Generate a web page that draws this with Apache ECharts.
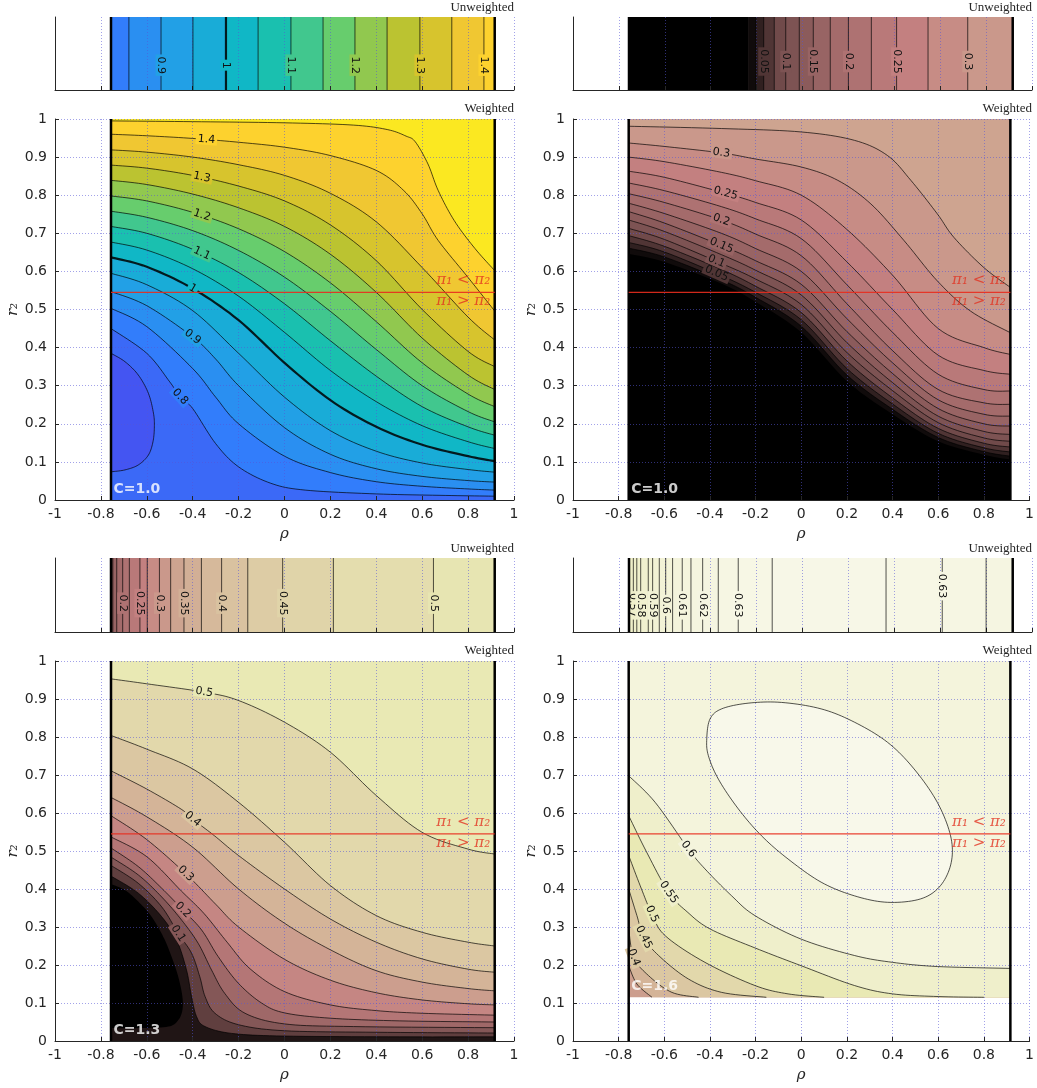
<!DOCTYPE html>
<html>
<head>
<meta charset="utf-8">
<title>Weighted / Unweighted contours</title>
<script src="https://cdn.jsdelivr.net/npm/echarts@6/dist/echarts.min.js"></script>
<style>
  html, body { margin: 0; padding: 0; background: #fff; }
  #chart { width: 1037px; height: 1088px; }
</style>
</head>
<body>
<div id="chart"></div>
<script>
// ---- values ----
const rhoBounds = [-0.756, 0.916]   // feasible rho range (thick black lines)
const r2Split = 0.545               // pi1 = pi2 boundary
const cLabels = ['C=1.0', 'C=1.0', 'C=1.3', 'C=1.6']
const r2Floor = [0, 0, 0, 0.115]    // lowest r2 that has data

// unweighted strips: rho of each contour line, its level, which lines carry a label
const u1Pos = [-0.678, -0.538, -0.399, -0.255, -0.115, 0.028, 0.168, 0.307, 0.447, 0.59, 0.729, 0.869]
const u1Lev = [0.85, 0.9, 0.95, 1, 1.05, 1.1, 1.15, 1.2, 1.25, 1.3, 1.35, 1.4]
const u1Lab = [1, 3, 5, 7, 9, 11]

const u2Pos = [-0.237, -0.203, -0.169, -0.123, -0.073, -0.014, 0.047, 0.121, 0.2, 0.3, 0.41, 0.547, 0.72]
const u2Lev = [0, 0.025, 0.05, 0.075, 0.1, 0.125, 0.15, 0.175, 0.2, 0.225, 0.25, 0.275, 0.3]
const u2Lab = [2, 4, 6, 8, 10, 12]

const u3Pos = [-0.748, -0.731, -0.705, -0.676, -0.63, -0.598, -0.545, -0.496, -0.438, -0.362, -0.274, -0.16, -0.008, 0.213, 0.649]
const u3Lev = [0.15, 0.175, 0.2, 0.225, 0.25, 0.275, 0.3, 0.325, 0.35, 0.375, 0.4, 0.425, 0.45, 0.475, 0.5]
const u3Lab = [2, 4, 6, 8, 10, 12, 14]

const u4Pos = [-0.737, -0.722, -0.705, -0.672, -0.653, -0.624, -0.596, -0.566, -0.524, -0.486, -0.435, -0.367, -0.28, -0.132, 0.364, 0.609, 0.8]
const u4Lev = [0.57, 0.575, 0.58, 0.585, 0.59, 0.595, 0.6, 0.605, 0.61, 0.615, 0.62, 0.625, 0.63, 0.635, 0.635, 0.63, 0.625]
const u4Lab = [0, 2, 4, 6, 8, 10, 12, 15]

// weighted panels: contour levels and the traced lines [rho, r2]
const w1Lev = [0.75, 0.8, 0.85, 0.9, 0.95, 1, 1.05, 1.1, 1.15, 1.2, 1.25, 1.3, 1.35, 1.4, 1.45]
const w1Lines = [
  [[-0.756, 0.385], [-0.695, 0.363], [-0.637, 0.328], [-0.593, 0.28], [-0.571, 0.228], [-0.567, 0.192], [-0.573, 0.153], [-0.593, 0.118], [-0.637, 0.092], [-0.695, 0.079], [-0.756, 0.074]],
  [[-0.756, 0.45], [-0.6, 0.385], [-0.5, 0.31], [-0.455, 0.271], [-0.4, 0.24], [-0.3, 0.148], [-0.2, 0.087], [-0.06, 0.044], [0.09, 0.026], [0.4, 0.016], [0.7, 0.012], [0.916, 0.01]],
  [[-0.756, 0.503], [-0.6, 0.455], [-0.4, 0.345], [-0.3, 0.27], [-0.2, 0.2], [0, 0.115], [0.2, 0.072], [0.4, 0.048], [0.6, 0.036], [0.8, 0.029], [0.916, 0.026]],
  [[-0.756, 0.547], [-0.6, 0.51], [-0.4, 0.428], [-0.3, 0.37], [-0.2, 0.3], [0, 0.19], [0.2, 0.12], [0.4, 0.082], [0.6, 0.062], [0.8, 0.051], [0.916, 0.047]],
  [[-0.756, 0.595], [-0.6, 0.565], [-0.4, 0.497], [-0.2, 0.385], [0, 0.27], [0.2, 0.182], [0.4, 0.128], [0.6, 0.097], [0.8, 0.08], [0.916, 0.073]],
  [[-0.756, 0.637], [-0.6, 0.612], [-0.4, 0.555], [-0.2, 0.472], [0, 0.36], [0.2, 0.262], [0.4, 0.192], [0.6, 0.145], [0.8, 0.115], [0.916, 0.102]],
  [[-0.756, 0.677], [-0.6, 0.656], [-0.4, 0.607], [-0.2, 0.535], [0, 0.44], [0.2, 0.34], [0.4, 0.258], [0.6, 0.195], [0.8, 0.153], [0.916, 0.135]],
  [[-0.756, 0.718], [-0.6, 0.7], [-0.4, 0.658], [-0.2, 0.597], [0, 0.515], [0.2, 0.418], [0.4, 0.325], [0.6, 0.245], [0.8, 0.192], [0.916, 0.17]],
  [[-0.756, 0.758], [-0.6, 0.742], [-0.4, 0.707], [-0.2, 0.655], [0, 0.585], [0.2, 0.495], [0.4, 0.395], [0.6, 0.3], [0.8, 0.232], [0.916, 0.205]],
  [[-0.756, 0.798], [-0.6, 0.785], [-0.4, 0.755], [-0.2, 0.712], [0, 0.652], [0.2, 0.57], [0.4, 0.468], [0.6, 0.36], [0.8, 0.278], [0.916, 0.245]],
  [[-0.756, 0.839], [-0.6, 0.828], [-0.4, 0.803], [-0.2, 0.767], [0, 0.718], [0.2, 0.645], [0.4, 0.545], [0.6, 0.425], [0.8, 0.328], [0.916, 0.29]],
  [[-0.756, 0.879], [-0.6, 0.871], [-0.4, 0.852], [-0.2, 0.824], [0, 0.785], [0.2, 0.722], [0.4, 0.628], [0.6, 0.5], [0.8, 0.39], [0.916, 0.35]],
  [[-0.756, 0.919], [-0.6, 0.913], [-0.4, 0.9], [-0.2, 0.88], [0, 0.852], [0.2, 0.805], [0.4, 0.73], [0.6, 0.61], [0.8, 0.48], [0.916, 0.42]],
  [[-0.756, 0.96], [-0.6, 0.956], [-0.4, 0.949], [-0.2, 0.939], [0, 0.926], [0.2, 0.904], [0.4, 0.865], [0.52, 0.812], [0.6, 0.751], [0.67, 0.681], [0.8, 0.584], [0.916, 0.496]],
  [[-0.756, 0.995], [-0.4, 0.993], [0, 0.99], [0.3, 0.984], [0.45, 0.972], [0.53, 0.955], [0.57, 0.94], [0.625, 0.882], [0.67, 0.812], [0.74, 0.733], [0.83, 0.66], [0.916, 0.602]]
]
const w1Lab = [[1.4, -0.334, 0.947], [1.3, -0.349, 0.852], [1.2, -0.349, 0.753], [1.1, -0.363, 0.654], [1, -0.407, 0.556], [0.9, -0.4, 0.428], [0.8, -0.458, 0.268]]

const w2Lev = [0, 0.025, 0.05, 0.075, 0.1, 0.125, 0.15, 0.175, 0.2, 0.225, 0.25, 0.275, 0.3, 0.325]
const w2Lines = [
  [[-0.756, 0.646], [-0.6, 0.625], [-0.35, 0.568], [-0.2, 0.52], [0, 0.44], [0.2, 0.312], [0.4, 0.225], [0.6, 0.154], [0.8, 0.119], [0.916, 0.106]],
  [[-0.756, 0.661], [-0.6, 0.638], [-0.35, 0.578], [-0.2, 0.532], [0, 0.456], [0.2, 0.328], [0.4, 0.238], [0.6, 0.164], [0.8, 0.127], [0.916, 0.115]],
  [[-0.756, 0.676], [-0.6, 0.651], [-0.35, 0.589], [-0.2, 0.545], [0, 0.473], [0.2, 0.345], [0.4, 0.252], [0.6, 0.175], [0.8, 0.137], [0.916, 0.126]],
  [[-0.756, 0.694], [-0.6, 0.666], [-0.35, 0.605], [-0.2, 0.561], [0, 0.492], [0.2, 0.365], [0.4, 0.268], [0.6, 0.188], [0.8, 0.149], [0.916, 0.139]],
  [[-0.756, 0.713], [-0.6, 0.684], [-0.35, 0.621], [-0.2, 0.58], [0, 0.513], [0.2, 0.387], [0.4, 0.287], [0.6, 0.203], [0.8, 0.163], [0.916, 0.154]],
  [[-0.756, 0.735], [-0.6, 0.705], [-0.35, 0.644], [-0.2, 0.603], [0, 0.538], [0.2, 0.413], [0.4, 0.308], [0.6, 0.22], [0.8, 0.18], [0.916, 0.172]],
  [[-0.756, 0.757], [-0.6, 0.727], [-0.35, 0.668], [-0.2, 0.628], [0, 0.566], [0.2, 0.442], [0.4, 0.332], [0.6, 0.24], [0.8, 0.2], [0.916, 0.194]],
  [[-0.756, 0.779], [-0.6, 0.752], [-0.35, 0.7], [-0.2, 0.66], [0, 0.6], [0.2, 0.476], [0.4, 0.36], [0.6, 0.263], [0.8, 0.225], [0.916, 0.22]],
  [[-0.756, 0.804], [-0.6, 0.781], [-0.35, 0.735], [-0.2, 0.698], [0, 0.641], [0.2, 0.515], [0.4, 0.392], [0.6, 0.29], [0.8, 0.255], [0.916, 0.251]],
  [[-0.756, 0.832], [-0.6, 0.812], [-0.35, 0.77], [-0.2, 0.738], [0, 0.686], [0.2, 0.565], [0.4, 0.44], [0.6, 0.33], [0.8, 0.29], [0.916, 0.286]],
  [[-0.756, 0.863], [-0.6, 0.847], [-0.35, 0.808], [-0.2, 0.781], [0, 0.735], [0.2, 0.625], [0.4, 0.5], [0.6, 0.38], [0.8, 0.34], [0.916, 0.33]],
  [[-0.756, 0.9], [-0.6, 0.888], [-0.35, 0.86], [-0.2, 0.838], [0, 0.8], [0.2, 0.71], [0.4, 0.59], [0.6, 0.45], [0.8, 0.4], [0.916, 0.382]],
  [[-0.756, 0.937], [-0.6, 0.928], [-0.35, 0.911], [-0.2, 0.895], [0, 0.874], [0.16, 0.839], [0.305, 0.777], [0.45, 0.681], [0.596, 0.575], [0.741, 0.496], [0.916, 0.439]],
  [[-0.756, 0.981], [-0.35, 0.975], [0, 0.966], [0.233, 0.944], [0.378, 0.904], [0.48, 0.839], [0.596, 0.751], [0.669, 0.689], [0.8, 0.61], [0.916, 0.558]]
]
const w2Lab = [[0.3, -0.349, 0.911], [0.25, -0.334, 0.808], [0.2, -0.356, 0.735], [0.15, -0.349, 0.668], [0.1, -0.371, 0.621], [0.05, -0.363, 0.589]]

const w3Lev = [0, 0.05, 0.1, 0.15, 0.2, 0.25, 0.3, 0.35, 0.4, 0.45, 0.5]
const w3Lines = [
  [[-0.756, 0.413], [-0.695, 0.397], [-0.637, 0.367], [-0.579, 0.327], [-0.528, 0.274], [-0.492, 0.222], [-0.463, 0.169], [-0.445, 0.117], [-0.445, 0.081], [-0.463, 0.055], [-0.506, 0.038], [-0.637, 0.034], [-0.756, 0.034]],
  [[-0.756, 0.434], [-0.637, 0.389], [-0.535, 0.327], [-0.47, 0.266], [-0.427, 0.187], [-0.405, 0.117], [-0.383, 0.064], [-0.346, 0.038], [-0.23, 0.02], [0, 0.013], [0.5, 0.011], [0.916, 0.011]],
  [[-0.756, 0.462], [-0.637, 0.415], [-0.535, 0.353], [-0.463, 0.283], [-0.405, 0.231], [-0.369, 0.169], [-0.346, 0.117], [-0.303, 0.073], [-0.201, 0.043], [0, 0.027], [0.4, 0.023], [0.916, 0.021]],
  [[-0.756, 0.484], [-0.637, 0.437], [-0.535, 0.379], [-0.448, 0.318], [-0.376, 0.257], [-0.318, 0.187], [-0.26, 0.125], [-0.172, 0.073], [0, 0.045], [0.3, 0.038], [0.916, 0.035]],
  [[-0.756, 0.508], [-0.637, 0.459], [-0.535, 0.402], [-0.443, 0.345], [-0.361, 0.292], [-0.289, 0.222], [-0.201, 0.152], [-0.1, 0.1], [0, 0.074], [0.2, 0.06], [0.5, 0.053], [0.916, 0.05]],
  [[-0.756, 0.537], [-0.6, 0.485], [-0.45, 0.395], [-0.35, 0.335], [-0.25, 0.26], [-0.15, 0.19], [0, 0.13], [0.2, 0.095], [0.4, 0.08], [0.6, 0.073], [0.916, 0.068]],
  [[-0.756, 0.593], [-0.6, 0.53], [-0.43, 0.44], [-0.3, 0.36], [-0.2, 0.3], [0, 0.215], [0.2, 0.16], [0.4, 0.127], [0.6, 0.108], [0.8, 0.098], [0.916, 0.095]],
  [[-0.756, 0.641], [-0.6, 0.59], [-0.4, 0.51], [-0.2, 0.4], [0, 0.31], [0.2, 0.24], [0.4, 0.185], [0.6, 0.155], [0.8, 0.138], [0.916, 0.132]],
  [[-0.756, 0.711], [-0.6, 0.663], [-0.45, 0.61], [-0.4, 0.584], [-0.305, 0.54], [-0.2, 0.488], [0, 0.4], [0.2, 0.321], [0.4, 0.26], [0.6, 0.216], [0.8, 0.189], [0.916, 0.181]],
  [[-0.756, 0.804], [-0.6, 0.768], [-0.4, 0.716], [-0.2, 0.628], [0, 0.523], [0.2, 0.409], [0.4, 0.33], [0.6, 0.286], [0.8, 0.26], [0.916, 0.25]],
  [[-0.756, 0.953], [-0.6, 0.94], [-0.35, 0.918], [-0.2, 0.896], [0, 0.839], [0.2, 0.76], [0.4, 0.646], [0.6, 0.549], [0.8, 0.505], [0.916, 0.492]]
]
const w3Lab = [[0.5, -0.349, 0.918], [0.4, -0.4, 0.584], [0.3, -0.429, 0.44], [0.2, -0.443, 0.345], [0.1, -0.465, 0.279]]

const w4Lev = [0.35, 0.4, 0.45, 0.5, 0.55, 0.6, 0.62]
const w4Lines = [
  [[-0.756, 0.198], [-0.72, 0.15], [-0.654, 0.115]],
  [[-0.756, 0.295], [-0.734, 0.22], [-0.669, 0.172], [-0.567, 0.128], [-0.45, 0.115]],
  [[-0.756, 0.4], [-0.72, 0.33], [-0.69, 0.273], [-0.625, 0.225], [-0.494, 0.163], [-0.349, 0.128], [-0.153, 0.115]],
  [[-0.756, 0.488], [-0.7, 0.4], [-0.654, 0.334], [-0.596, 0.277], [-0.422, 0.207], [-0.203, 0.146], [-0.058, 0.124], [0.1, 0.115]],
  [[-0.756, 0.593], [-0.68, 0.5], [-0.581, 0.391], [-0.5, 0.34], [-0.4, 0.295], [-0.203, 0.245], [0, 0.198], [0.233, 0.146], [0.4, 0.124], [0.6, 0.117], [0.8, 0.115]],
  [[-0.756, 0.698], [-0.64, 0.628], [-0.494, 0.505], [-0.422, 0.453], [-0.305, 0.382], [-0.203, 0.33], [0, 0.268], [0.233, 0.225], [0.4, 0.207], [0.596, 0.196], [0.916, 0.191]],
  [[-0.414, 0.795], [-0.4, 0.847], [-0.349, 0.874], [-0.233, 0.889], [-0.087, 0.891], [0.087, 0.874], [0.233, 0.839], [0.378, 0.786], [0.494, 0.716], [0.596, 0.628], [0.654, 0.54], [0.657, 0.47], [0.61, 0.409], [0.523, 0.374], [0.378, 0.365], [0.233, 0.382], [0.087, 0.418], [-0.058, 0.479], [-0.174, 0.54], [-0.276, 0.611], [-0.363, 0.689], [-0.407, 0.751]]
]
const w4Lab = [[0.6, -0.494, 0.505], [0.55, -0.581, 0.391], [0.5, -0.654, 0.334], [0.45, -0.69, 0.273], [0.4, -0.734, 0.22]]

// ---- colours ----
const parula = ['#3e26a8', '#484df0', '#327cfc', '#20a5e3', '#0bbdbc', '#64cd6f', '#c5c22a', '#fec934', '#f9fb15']
const pink = ['#000000', '#704a4a', '#9f6868', '#c38080', '#d0aa93', '#ddcca5', '#e9e9b4', '#f4f4dd', '#ffffff']
const cmaps = [{ min: 0.59, max: 1.52, colors: parula }, { min: 0, max: 0.7, colors: pink }]

// ---- layout ----
const W = 459
const colLeft = [55, 573, 55, 573]
const stripTop = [17, 17, 558, 558]
const stripH = [73, 73, 74, 74]
const mainTop = [119, 119, 661, 661]
const mainH = [381, 381, 380, 380]
const raisedLabel = { 3: 15 }   // the right hand 0.63 label of the last strip sits higher

const panels = [
  { uPos: u1Pos, uLev: u1Lev, uLab: u1Lab, uLabY: 0.34, wLev: w1Lev, wLines: w1Lines, wLab: w1Lab, cmap: 0, thick: 1 },
  { uPos: u2Pos, uLev: u2Lev, uLab: u2Lab, uLabY: 0.39, wLev: w2Lev, wLines: w2Lines, wLab: w2Lab, cmap: 1, thick: null },
  { uPos: u3Pos, uLev: u3Lev, uLab: u3Lab, uLabY: 0.39, wLev: w3Lev, wLines: w3Lines, wLab: w3Lab, cmap: 1, thick: null },
  { uPos: u4Pos, uLev: u4Lev, uLab: u4Lab, uLabY: 0.36, wLev: w4Lev, wLines: w4Lines, wLab: w4Lab, cmap: 1, thick: null }
]

const TXT = '#262626'
const gridDot = { type: [1, 2], color: 'rgba(85,85,215,0.55)', width: 1 }

// catmull-rom through pixel points, sampled into a polyline
function smooth(P, closed) {
  const n = P.length
  const out = [P[0]]
  const seg = closed ? n : n - 1
  for (let i = 0; i < seg; i++) {
    const p0 = P[closed ? (i - 1 + n) % n : Math.max(i - 1, 0)]
    const p1 = P[i]
    const p2 = P[(i + 1) % n]
    const p3 = P[closed ? (i + 2) % n : Math.min(i + 2, n - 1)]
    const c1 = [p1[0] + (p2[0] - p0[0]) / 6, p1[1] + (p2[1] - p0[1]) / 6]
    const c2 = [p2[0] - (p3[0] - p1[0]) / 6, p2[1] - (p3[1] - p1[1]) / 6]
    for (let k = 1; k <= 10; k++) {
      const t = k / 10, u = 1 - t
      const a = u * u * u, b = 3 * u * u * t, c = 3 * u * t * t, d = t * t * t
      out.push([a * p1[0] + b * c1[0] + c * c2[0] + d * p2[0], a * p1[1] + b * c1[1] + c * c2[1] + d * p2[1]])
    }
  }
  return out
}

// position along the data rectangle border, counter-clockwise from bottom-left (-1 if inside)
function edgeParam(p, R) {
  const d = [Math.abs(p[1] - R[2]), Math.abs(p[0] - R[1]), Math.abs(p[1] - R[3]), Math.abs(p[0] - R[0])]
  let e = 0
  for (let i = 1; i < 4; i++) if (d[i] < d[e]) e = i
  if (d[e] > 0.02) return -1
  const w = R[1] - R[0], h = R[3] - R[2]
  if (e === 0) return (p[0] - R[0]) / w
  if (e === 1) return 1 + (p[1] - R[2]) / h
  if (e === 2) return 2 + (R[1] - p[0]) / w
  return 3 + (R[3] - p[1]) / h
}

// region on the high side (left of travel) of a contour line, in pixels
function regionPixels(line, R, api) {
  const sA = edgeParam(line[0], R), sB = edgeParam(line[line.length - 1], R)
  const closed = sA < 0 || sB < 0
  const pts = smooth(line.map(q => api.coord(q)), closed)
  if (closed) return pts
  const corners = [[R[0], R[2]], [R[1], R[2]], [R[1], R[3]], [R[0], R[3]]]
  let t = sA
  if (t <= sB) t += 4
  for (let c = Math.floor(sB) + 1; c < t; c++) pts.push(api.coord(corners[c % 4]))
  return pts
}

function minStep(lev) {
  let s = Infinity
  for (let i = 1; i < lev.length; i++) {
    const d = Math.abs(lev[i] - lev[i - 1])
    if (d > 1e-9 && d < s) s = d
  }
  return s
}

function labelText(text, bg) {
  return {
    text: text, fill: '#111', fontSize: 11, fontFamily: 'DejaVu Sans',
    align: 'center', verticalAlign: 'middle', textAlign: 'center', textVerticalAlign: 'middle',
    backgroundColor: bg, padding: [0, 2]
  }
}

const grid = [], xAxis = [], yAxis = [], series = []
const vmSeries = [[], []]
const graphic = []

function axisX(g, main) {
  return {
    type: 'value', gridIndex: g, min: -1, max: 1, interval: 0.2, z: 4,
    axisLine: { show: true, onZero: false, lineStyle: { color: TXT, width: 1 } },
    axisTick: { show: true, inside: true, length: 4, lineStyle: { color: TXT } },
    axisLabel: { show: main, fontSize: 14, color: TXT, fontFamily: 'DejaVu Sans', margin: 7 },
    splitLine: { show: true, lineStyle: gridDot },
    name: main ? 'ρ' : '', nameLocation: 'middle', nameGap: 27,
    nameTextStyle: { fontFamily: 'DejaVu Serif', fontStyle: 'italic', fontSize: 15, color: TXT }
  }
}
function axisY(g, main) {
  return {
    type: 'value', gridIndex: g, min: 0, max: 1, interval: 0.1, z: 4,
    axisLine: { show: true, onZero: false, lineStyle: { color: TXT, width: 1 } },
    axisTick: { show: main, inside: true, length: 4, lineStyle: { color: TXT } },
    axisLabel: { show: main, fontSize: 14, color: TXT, fontFamily: 'DejaVu Sans', margin: 8 },
    splitLine: { show: main, lineStyle: gridDot },
    name: main ? 'r₂' : '', nameLocation: 'middle', nameGap: 34,
    nameTextStyle: { fontFamily: 'DejaVu Serif', fontStyle: 'italic', fontSize: 15, color: TXT }
  }
}

panels.forEach((P, p) => {
  const gs = 2 * p, gm = 2 * p + 1
  const x0 = rhoBounds[0], x1 = rhoBounds[1]
  const cm = cmaps[P.cmap]
  const clampV = v => Math.min(cm.max, Math.max(cm.min, v))

  grid.push({ left: colLeft[p], top: stripTop[p], width: W, height: stripH[p] })
  grid.push({ left: colLeft[p], top: mainTop[p], width: W, height: mainH[p] })
  xAxis.push(axisX(gs, false), axisX(gm, true))
  yAxis.push(axisY(gs, false), axisY(gm, true))

  // ---- unweighted strip ----
  const pos = P.uPos, lev = P.uLev, n = lev.length
  const ustep = minStep(lev)
  const bandVal = i => {
    if (i === 0) return lev[0] - (lev[1] > lev[0] ? 1 : -1) * ustep / 2
    if (i === n) return lev[n - 1] + (lev[n - 1] > lev[n - 2] ? 1 : -1) * ustep / 2
    const a = lev[i - 1], b = lev[i]
    return Math.abs(a - b) < 1e-9 ? a + ustep / 2 : (a + b) / 2
  }
  const bands = []
  for (let i = 0; i <= n; i++) bands.push([i === 0 ? x0 : pos[i - 1], i === n ? x1 : pos[i], clampV(bandVal(i))])

  series.push({
    type: 'custom', xAxisIndex: gs, yAxisIndex: gs, silent: true, z: 1, clip: true,
    data: bands.map(b => [0, 0, b[2]]),
    renderItem: (params, api) => {
      const b = bands[params.dataIndex]
      const a = api.coord([b[0], 1]), c = api.coord([b[1], 0])
      return { type: 'rect', shape: { x: a[0], y: a[1], width: c[0] - a[0] + 0.6, height: c[1] - a[1] }, style: { fill: api.visual('color') } }
    }
  })
  vmSeries[P.cmap].push(series.length - 1)

  series.push({
    type: 'custom', xAxisIndex: gs, yAxisIndex: gs, silent: true, z: 5, clip: true,
    data: pos.map((x, i) => [0, 0, bands[i + 1][2]]),
    renderItem: (params, api) => {
      const i = params.dataIndex, x = pos[i], L = lev[i]
      const kids = []
      const a = api.coord([x, 0]), b = api.coord([x, 1])
      if (L !== 0) {
        kids.push({ type: 'line', shape: { x1: a[0], y1: a[1], x2: b[0], y2: b[1] },
          style: { stroke: '#000', lineWidth: L === P.thick ? 2.2 : 0.8, opacity: 0.85 } })
      }
      if (P.uLab.indexOf(i) >= 0) {
        const yf = raisedLabel[p] === i ? 0.62 : P.uLabY
        const t = api.coord([x, yf])
        kids.push({ type: 'text', x: t[0], y: t[1], rotation: -Math.PI / 2, style: labelText(String(L), api.visual('color')) })
      }
      return { type: 'group', children: kids }
    }
  })
  vmSeries[P.cmap].push(series.length - 1)

  // ---- weighted panel ----
  const wl = P.wLev, lines = P.wLines, m = wl.length
  const wstep = wl[1] - wl[0]
  const R = [x0, x1, r2Floor[p], 1]
  const regionVal = k => k === 0 ? wl[0] - wstep / 2 : (k < m ? (wl[k - 1] + wl[k]) / 2 : wl[m - 1] + wstep / 2)
  const regions = []
  for (let k = 0; k <= m; k++) regions.push(clampV(regionVal(k)))

  series.push({
    type: 'custom', xAxisIndex: gm, yAxisIndex: gm, silent: true, z: 1, clip: true,
    data: regions.map(v => [0, 0, v]),
    renderItem: (params, api) => {
      const k = params.dataIndex
      const pts = k === 0
        ? [[R[0], R[2]], [R[1], R[2]], [R[1], R[3]], [R[0], R[3]]].map(q => api.coord(q))
        : regionPixels(lines[k - 1], R, api)
      return { type: 'polygon', shape: { points: pts }, style: { fill: api.visual('color') } }
    }
  })
  vmSeries[P.cmap].push(series.length - 1)

  series.push({
    type: 'custom', xAxisIndex: gm, yAxisIndex: gm, silent: true, z: 5, clip: true,
    data: wl.map((L, k) => [0, 0, regions[k + 1]]),
    renderItem: (params, api) => {
      const k = params.dataIndex, L = wl[k], line = lines[k]
      const closed = edgeParam(line[0], R) < 0
      const curve = smooth(line.map(q => api.coord(q)), closed)
      const kids = []
      if (L !== 0) {
        kids.push({ type: 'polyline', shape: { points: curve },
          style: { stroke: '#000', fill: 'none', lineWidth: L === P.thick ? 2.2 : 0.8, opacity: 0.85 } })
      }
      P.wLab.filter(l => Math.abs(l[0] - L) < 1e-9).forEach(l => {
        const t = api.coord([l[1], l[2]])
        let j = 0, best = Infinity
        curve.forEach((q, i) => {
          const d = (q[0] - t[0]) * (q[0] - t[0]) + (q[1] - t[1]) * (q[1] - t[1])
          if (d < best) { best = d; j = i }
        })
        const a = curve[Math.max(j - 4, 0)], b = curve[Math.min(j + 4, curve.length - 1)]
        let rot = Math.atan2(-(b[1] - a[1]), b[0] - a[0])
        if (rot > Math.PI / 2) rot -= Math.PI
        if (rot < -Math.PI / 2) rot += Math.PI
        kids.push({ type: 'text', x: curve[j][0], y: curve[j][1], rotation: rot, style: labelText(String(L), api.visual('color')) })
      })
      return { type: 'group', children: kids }
    }
  })
  vmSeries[P.cmap].push(series.length - 1)

  // thick bounds in strip and main plot
  ;[gs, gm].forEach(g => rhoBounds.forEach(xb => {
    series.push({
      type: 'line', xAxisIndex: g, yAxisIndex: g, silent: true, z: 6, symbol: 'none',
      data: [[xb, 0], [xb, 1]], lineStyle: { color: '#000', width: 2.5 }
    })
  }))

  // pi1 = pi2 line
  series.push({
    type: 'line', xAxisIndex: gm, yAxisIndex: gm, silent: true, z: 6, symbol: 'none',
    data: [[x0, r2Split], [x1, r2Split]], lineStyle: { color: 'rgba(232,44,30,0.9)', width: 1.2 }
  })

  // annotations
  const piStyle = { color: '#e2311f', fontFamily: 'DejaVu Serif', fontStyle: 'italic', fontSize: 15, align: 'right' }
  series.push({
    type: 'scatter', xAxisIndex: gm, yAxisIndex: gm, silent: true, z: 8, symbolSize: 1,
    itemStyle: { color: 'rgba(0,0,0,0)' },
    data: [
      { value: [x1, r2Split], label: Object.assign({ show: true, formatter: 'π₁ < π₂', position: [-4, -19], verticalAlign: 'top' }, piStyle) },
      { value: [x1, r2Split], label: Object.assign({ show: true, formatter: 'π₁ > π₂', position: [-4, 2], verticalAlign: 'top' }, piStyle) },
      { value: [x0, r2Floor[p]], label: { show: true, formatter: cLabels[p], position: [3, -17], align: 'left', verticalAlign: 'top',
        color: '#fff', fontWeight: 'bold', fontSize: 14, fontFamily: 'DejaVu Sans' } }
    ]
  })

  // titles
  const titleStyle = t => ({ text: t, fill: TXT, font: '13px "Liberation Serif", "DejaVu Serif", serif',
    align: 'right', verticalAlign: 'bottom', textAlign: 'right', textVerticalAlign: 'bottom' })
  graphic.push({ type: 'text', x: colLeft[p] + W, y: stripTop[p] - 3, style: titleStyle('Unweighted') })
  graphic.push({ type: 'text', x: colLeft[p] + W, y: mainTop[p] - 4, style: titleStyle('Weighted') })
})

const chart = echarts.init(document.getElementById('chart'), null, { renderer: 'canvas' })
chart.setOption({
  animation: false,
  backgroundColor: '#fff',
  grid, xAxis, yAxis, series, graphic,
  visualMap: cmaps.map((c, i) => ({
    type: 'continuous', show: false, dimension: 2, min: c.min, max: c.max,
    inRange: { color: c.colors }, seriesIndex: vmSeries[i]
  }))
})
</script>
</body>
</html>
